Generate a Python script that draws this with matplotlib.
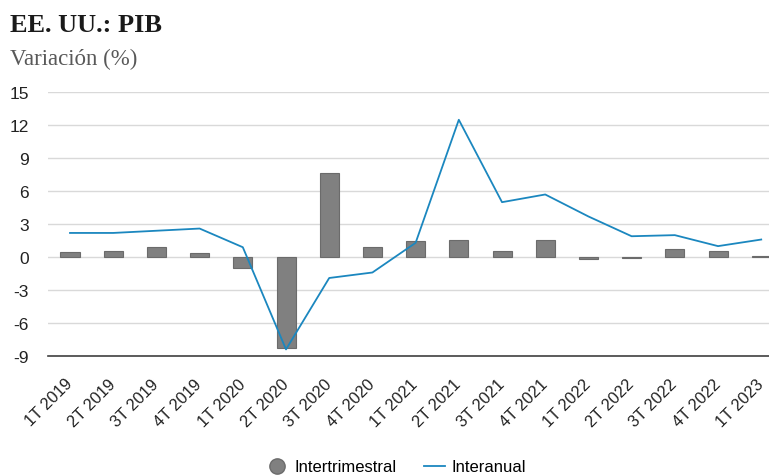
import matplotlib
matplotlib.use("Agg")
import matplotlib.pyplot as plt
from matplotlib.lines import Line2D
import numpy as np

categories = ["1T 2019", "2T 2019", "3T 2019", "4T 2019",
              "1T 2020", "2T 2020", "3T 2020", "4T 2020",
              "1T 2021", "2T 2021", "3T 2021", "4T 2021",
              "1T 2022", "2T 2022", "3T 2022", "4T 2022",
              "1T 2023"]
intertrimestral = [0.5, 0.6, 0.9, 0.4, -1.0, -8.3, 7.7, 0.9,
                   1.5, 1.6, 0.6, 1.6, -0.2, -0.1, 0.7, 0.6, 0.1]
interanual = [2.2, 2.2, 2.4, 2.6, 0.9, -8.4, -1.9, -1.4,
              1.3, 12.5, 5.0, 5.7, 3.7, 1.9, 2.0, 1.0, 1.6]
yticks = [-9, -6, -3, 0, 3, 6, 9, 12, 15]

plt.rcParams['font.family'] = ['Liberation Sans', 'DejaVu Sans']

fig = plt.figure(figsize=(7.69, 4.77), dpi=100)
ax = fig.add_axes([48.4 / 769, 1 - 357 / 477, (769 - 48.4) / 769, (357 - 93.3) / 477])

x = np.arange(len(categories))
ax.bar(x, intertrimestral, width=0.44, color="#808080",
       edgecolor="#6b6b6b", linewidth=0.8, zorder=3)
ax.plot(x, interanual, color="#1b87bf", linewidth=1.3, zorder=4)

ax.set_xlim(-0.5, 16.18)
ax.set_ylim(-9, 15)
ax.set_yticks(yticks)
ax.set_yticklabels([str(v) for v in yticks], fontsize=12.5, color="#222222")
ax.set_xticks(x)
ax.set_xticklabels(categories, rotation=45, ha="right", va="center",
                   rotation_mode="anchor", fontsize=11.8, color="#222222")
ax.tick_params(axis="both", length=0)
ax.tick_params(axis="x", pad=18)
ax.tick_params(axis="y", pad=14)
ax.grid(axis="y", color="#d9d9d9", linewidth=1.0, zorder=0)
for s in ["top", "right", "left"]:
    ax.spines[s].set_visible(False)
ax.spines["bottom"].set_color("#404040")
ax.spines["bottom"].set_linewidth(1.2)

fig.text(10 / 769, 1 - 26 / 477, "EE. UU.: PIB", fontsize=19, fontweight="bold",
         family=["Liberation Serif", "DejaVu Serif"], color="#1a1a1a", va="center")
fig.text(10 / 769, 1 - 59 / 477, "Variación (%)", fontsize=16.5,
         family=["Liberation Serif", "DejaVu Serif"], color="#595959", va="center")

handles = [Line2D([], [], marker="o", linestyle="none", markersize=11,
                  markerfacecolor="#808080", markeredgecolor="#6b6b6b"),
           Line2D([], [], color="#1b87bf", linewidth=1.3)]
fig.legend(handles, ["Intertrimestral", "Interanual"], loc="center",
           bbox_to_anchor=(396.5 / 769, 1 - 468 / 477), ncol=2, frameon=False,
           fontsize=12, handlelength=1.3, columnspacing=1.6, handletextpad=0.4)

fig.savefig("out.png", dpi=100)
